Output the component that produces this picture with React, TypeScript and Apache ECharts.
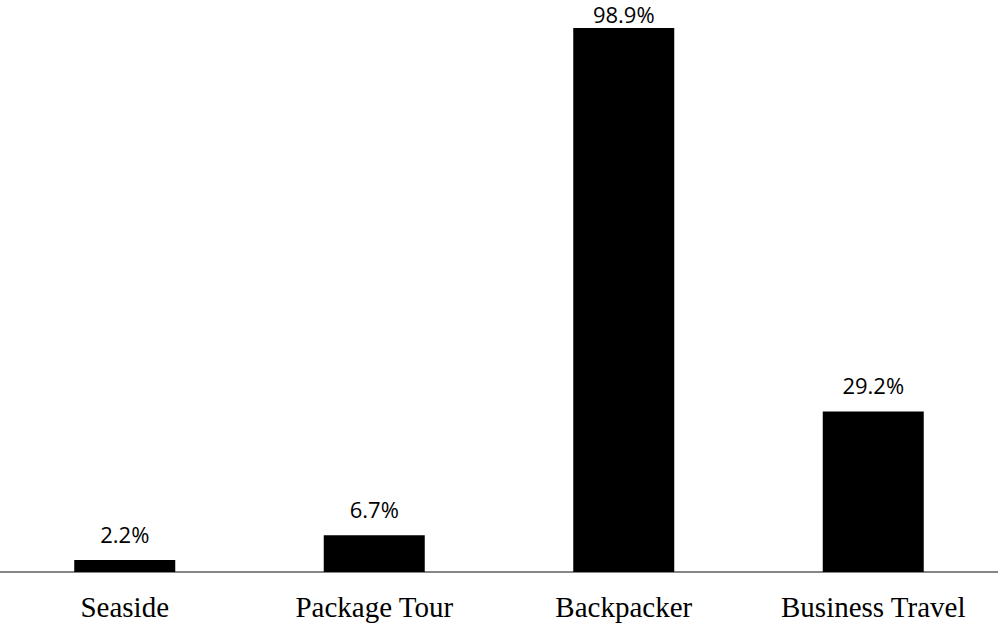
import React, { useEffect, useRef } from "react";
import * as echarts from "echarts";

const categories = ["Seaside", "Package Tour", "Backpacker", "Business Travel"];
const values = [2.2, 6.7, 98.9, 29.2];

export default function App() {
  const ref = useRef<HTMLDivElement>(null);
  useEffect(() => {
    document.body.style.margin = "0";
    const chart = echarts.init(ref.current!, null, { renderer: "svg" });
    const maxVal = Math.max(...values);
    chart.setOption({
      animation: false,
      backgroundColor: "#ffffff",
      grid: { left: 0, right: 0, top: 22, bottom: 53, containLabel: false },
      xAxis: {
        type: "category",
        data: categories,
        axisLine: { show: true, lineStyle: { color: "#868686", width: 2 } },
        axisTick: { show: false },
        axisLabel: {
          color: "#000",
          fontFamily: "Liberation Serif",
          fontSize: 29,
          margin: 20,
        },
      },
      yAxis: {
        type: "value",
        min: 0,
        max: 100,
        show: false,
        splitLine: { show: false },
      },
      series: [
        {
          type: "bar",
          data: values.map((v) =>
            v === maxVal ? { value: v, label: { distance: 3 } } : { value: v }
          ),
          barWidth: 101,
          itemStyle: { color: "#000000" },
          label: {
            show: true,
            position: "top",
            distance: 15,
            formatter: (p: any) => Number(p.value).toFixed(1) + "%",
            color: "#000",
            fontFamily: "Open Sans",
            fontSize: 22,
          },
        },
      ],
    });
    return () => chart.dispose();
  }, []);
  return <div ref={ref} style={{ width: 998, height: 625 }} />;
}
